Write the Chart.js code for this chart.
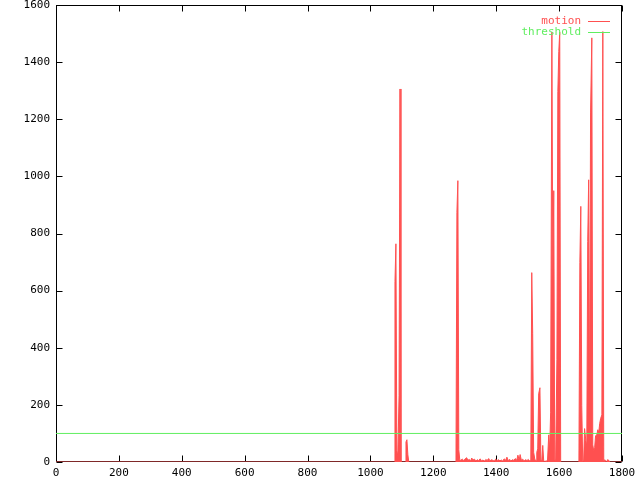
<!DOCTYPE html>
<html>
<head>
<meta charset="utf-8">
<script src="https://cdn.jsdelivr.net/npm/chart.js@4/dist/chart.umd.min.js"></script>
<style>
  html, body { margin: 0; padding: 0; background: #fff; }
  canvas { display: block; }
</style>
</head>
<body>
<canvas id="chart" width="640" height="480"></canvas>
<script>
const xTicks = [0, 200, 400, 600, 800, 1000, 1200, 1400, 1600, 1800];
const yTicks = [0, 200, 400, 600, 800, 1000, 1200, 1400, 1600];

// motion samples (only where the value changes)
const motionX = [
  0, 1075, 1078, 1081, 1084, 1087, 1091, 1094, 1097,
  1110, 1113, 1116, 1119, 1122,
  1272, 1275, 1278, 1281, 1284,
  1287, 1292, 1297, 1302, 1306, 1310, 1314, 1319, 1322, 1326, 1331, 1335, 1340, 1344, 1349, 1353,
  1358, 1362, 1367, 1371, 1376, 1380, 1385, 1389, 1394, 1398, 1403, 1407, 1412, 1416, 1421, 1425,
  1430, 1434, 1438, 1443, 1447, 1452, 1456, 1461, 1465, 1469, 1473, 1476, 1480, 1484, 1489, 1493,
  1498, 1502, 1506, 1510,
  1513, 1516, 1519, 1523, 1527, 1529, 1532, 1535, 1539, 1542, 1545, 1548, 1551, 1555, 1559, 1563,
  1567, 1570, 1573, 1577, 1580, 1583, 1586, 1589, 1593, 1596, 1599, 1602, 1605,
  1663, 1666, 1669, 1672, 1675, 1678, 1681, 1685, 1688, 1691, 1694, 1697, 1700, 1704, 1707, 1710,
  1713, 1716, 1720, 1723, 1726, 1729, 1732, 1736, 1739, 1742, 1745, 1748, 1751, 1754, 1758, 1761,
  1800
];
const motionY = [
  0, 0, 632, 764, 40, 20, 232, 1306, 0,
  0, 70, 78, 25, 0,
  0, 874, 985, 43, 8,
  6, 10, 5, 12, 15, 6, 9, 4, 14, 7, 10, 3, 8, 5, 11, 4,
  7, 3, 9, 5, 12, 4, 8, 6, 3, 10, 5, 8, 4, 7, 3, 11,
  6, 17, 5, 9, 4, 8, 6, 12, 5, 24, 7, 26, 6, 10, 4, 8,
  5, 9, 4, 6,
  663, 449, 34, 8, 5, 34, 46, 239, 260, 8, 5, 58, 3, 2, 4, 2,
  95, 43, 172, 1505, 641, 950, 10, 5, 360, 1297, 1437, 1505, 0,
  0, 699, 895, 197, 5, 3, 117, 75, 55, 772, 988, 134, 1222, 1485, 60, 40,
  50, 92, 95, 113, 103, 134, 152, 165, 1507, 0, 8, 3, 0, 8, 6, 0,
  0
];

const thresholdX = [0, 1800];
const thresholdY = [100, 100];

const red = '#ff5050';
const green = '#60ee60';
const font = { family: 'DejaVu Sans Mono', size: 11 };

// border box with inward ticks on all four sides, like gnuplot
const frame = {
  id: 'frame',
  beforeDatasetsDraw(chart) {
    const { ctx, chartArea: a, scales: { x, y } } = chart;
    const L = Math.round(a.left) + 0.5, R = Math.round(a.right) - 0.5;
    const T = Math.round(a.top) + 0.5, B = Math.round(a.bottom) - 0.5;
    ctx.save();
    ctx.strokeStyle = '#000';
    ctx.lineWidth = 1;
    ctx.strokeRect(L, T, R - L, B - T);
    ctx.beginPath();
    xTicks.forEach(v => {
      const px = Math.round(x.getPixelForValue(v)) + 0.5;
      ctx.moveTo(px, B); ctx.lineTo(px, B - 6);
      ctx.moveTo(px, T); ctx.lineTo(px, T + 6);
    });
    yTicks.forEach(v => {
      const py = Math.round(y.getPixelForValue(v)) + 0.5;
      ctx.moveTo(L, py); ctx.lineTo(L + 6, py);
      ctx.moveTo(R, py); ctx.lineTo(R - 6, py);
    });
    ctx.stroke();
    ctx.restore();
  },
  afterDatasetsDraw(chart) {
    const { ctx } = chart;
    ctx.save();
    ctx.font = '11px "DejaVu Sans Mono"';
    ctx.textAlign = 'right';
    ctx.textBaseline = 'middle';
    chart.data.datasets.forEach((ds, i) => {
      const yy = 21.5 + i * 11;
      ctx.fillStyle = ds.borderColor;
      ctx.fillText(ds.label, 581, yy);
      ctx.strokeStyle = ds.borderColor;
      ctx.lineWidth = 1;
      ctx.beginPath();
      ctx.moveTo(588, yy); ctx.lineTo(610, yy);
      ctx.stroke();
    });
    ctx.restore();
  }
};

new Chart(document.getElementById('chart'), {
  type: 'line',
  data: {
    datasets: [
      {
        label: 'motion',
        data: motionX.map((v, i) => ({ x: v, y: motionY[i] })),
        borderColor: red,
        backgroundColor: red,
        borderWidth: 1,
        fill: 'origin',
        order: 1
      },
      {
        label: 'threshold',
        data: thresholdX.map((v, i) => ({ x: v, y: thresholdY[i] })),
        borderColor: green,
        borderWidth: 1,
        fill: false,
        order: 0
      }
    ]
  },
  options: {
    responsive: false,
    animation: false,
    layout: { padding: { top: 5, right: 18, left: 0, bottom: 0 } },
    elements: { point: { radius: 0 }, line: { tension: 0 } },
    plugins: { legend: { display: false }, tooltip: { enabled: false } },
    scales: {
      x: {
        type: 'linear', min: 0, max: 1800,
        grid: { display: false, drawTicks: false },
        border: { display: false },
        afterBuildTicks: s => { s.ticks = xTicks.map(v => ({ value: v })); },
        afterFit: s => { s.height = 18; s.paddingLeft = 0; s.paddingRight = 0; },
        ticks: { padding: 5, color: '#000', font, maxRotation: 0, autoSkip: false, callback: v => String(v) }
      },
      y: {
        type: 'linear', min: 0, max: 1600,
        grid: { display: false, drawTicks: false },
        border: { display: false },
        afterBuildTicks: s => { s.ticks = yTicks.map(v => ({ value: v })); },
        afterFit: s => { s.width = 56; s.paddingTop = 0; s.paddingBottom = 0; },
        ticks: { padding: 6, color: '#000', font, callback: v => String(v) }
      }
    }
  },
  plugins: [frame]
});
</script>
</body>
</html>
